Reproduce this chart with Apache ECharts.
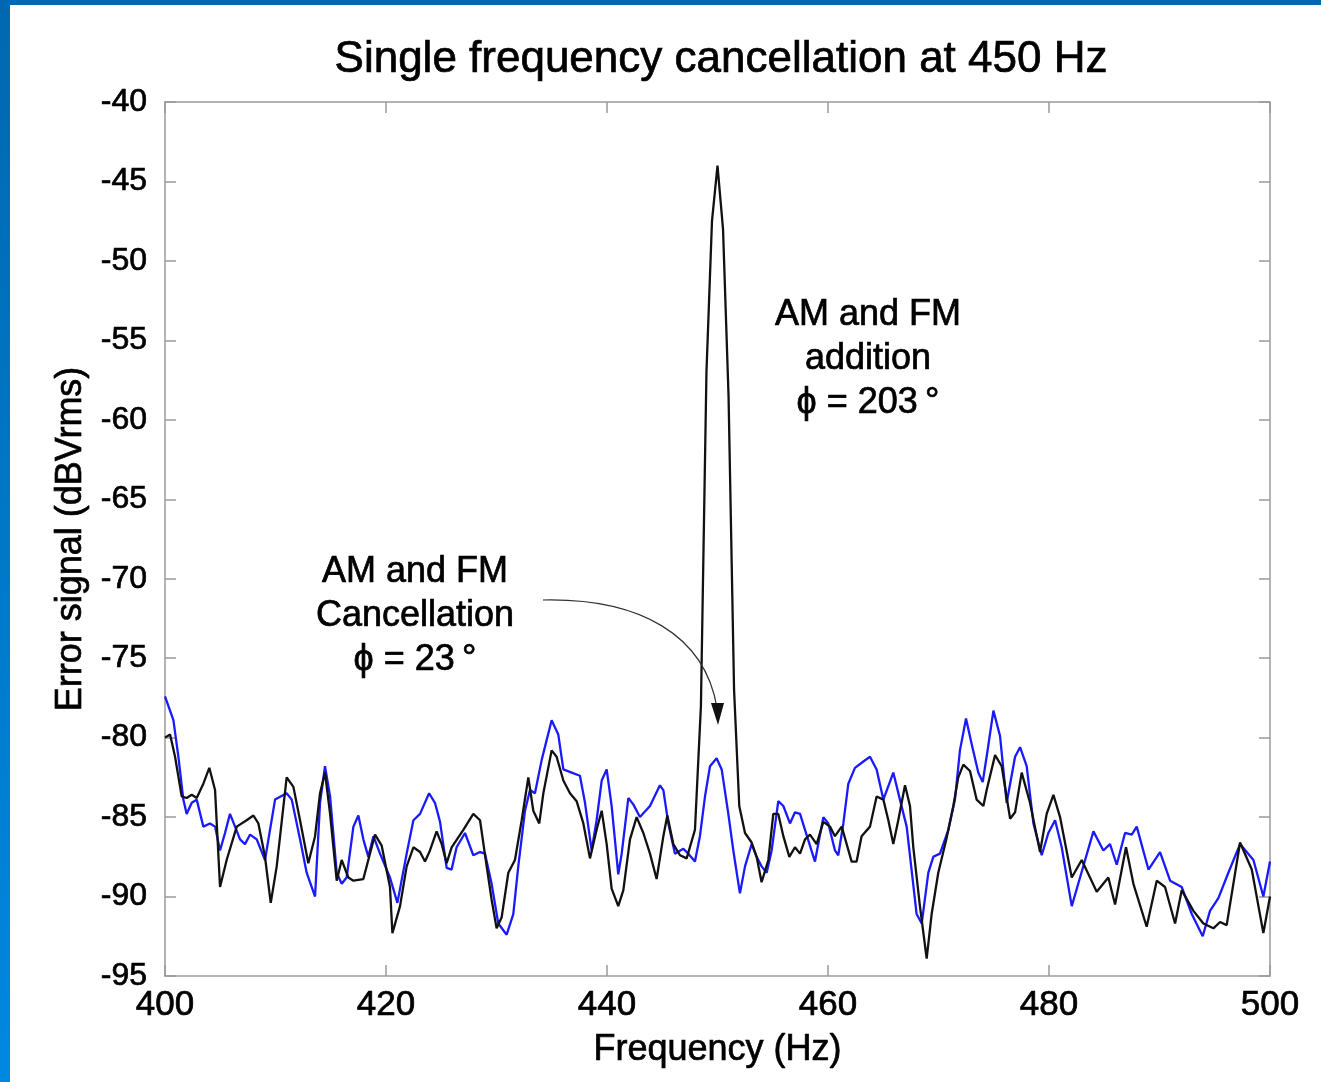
<!DOCTYPE html>
<html>
<head>
<meta charset="utf-8">
<script src="https://cdn.jsdelivr.net/npm/echarts@6/dist/echarts.min.js"></script>
<style>
html,body{margin:0;padding:0;background:#fff;}
#chart{width:1321px;height:1082px;}
</style>
</head>
<body>
<div id="chart"></div>
<script>
// ---- data ----
const titleText = 'Single frequency cancellation at 450 Hz';
const xTicks = [400, 420, 440, 460, 480, 500];
const yTicks = [-95, -90, -85, -80, -75, -70, -65, -60, -55, -50, -45, -40];

const blueHz = [400.0,400.76,401.21,401.66,401.96,402.42,402.87,403.47,404.07,404.53,404.98,405.43,405.88,406.34,406.79,407.24,407.70,408.30,409.05,409.96,411.01,411.47,412.22,412.82,413.58,414.03,414.48,414.94,415.54,415.99,416.44,417.05,417.50,417.95,418.40,418.86,419.46,420.36,421.03,421.87,422.48,423.08,423.90,424.43,424.89,425.49,425.94,426.39,427.15,427.90,428.51,428.96,429.56,430.16,430.92,431.52,431.97,432.58,433.03,433.48,434.09,434.99,435.59,436.05,436.80,437.55,438.01,438.61,439.06,439.52,439.97,440.42,441.02,441.33,441.93,442.38,442.98,443.89,444.79,445.10,445.55,446.15,446.91,447.36,447.96,448.41,448.87,449.32,449.92,450.38,450.98,451.43,452.03,452.49,453.09,453.54,453.99,454.45,454.90,455.50,455.96,456.56,457.01,457.47,457.92,458.82,459.58,460.03,460.63,460.93,461.39,461.84,462.44,463.20,463.80,464.40,465.01,465.91,466.51,467.12,468.02,468.48,469.08,469.53,470.13,470.89,471.49,471.94,472.49,473.00,473.60,474.00,474.40,474.97,475.57,476.17,476.93,477.38,477.98,478.59,479.34,479.94,480.55,481.15,482.06,482.81,484.02,484.92,485.52,486.13,486.88,487.49,487.94,489.00,490.05,490.96,492.01,492.92,493.91,494.57,495.33,496.23,497.29,498.50,499.40,500.0];
const blueDb = [-77.4,-78.9,-81.2,-83.9,-84.8,-84.1,-83.9,-85.6,-85.4,-85.6,-87.1,-86.0,-84.8,-85.6,-86.4,-86.7,-86.1,-86.4,-87.7,-83.9,-83.5,-83.9,-86.4,-88.5,-90.0,-84.1,-81.8,-83.7,-88.5,-89.2,-88.8,-85.6,-84.9,-86.4,-87.5,-86.2,-87.3,-88.8,-90.4,-87.3,-85.2,-84.8,-83.5,-84.1,-85.3,-88.2,-88.3,-86.9,-86.0,-87.4,-87.2,-87.3,-89.2,-91.7,-92.4,-91.1,-88.1,-84.6,-83.3,-83.5,-81.4,-78.9,-79.8,-82.0,-82.2,-82.4,-84.1,-87.1,-85.2,-82.7,-82.0,-84.3,-88.6,-87.3,-83.8,-84.2,-85.0,-84.3,-83.0,-83.3,-85.4,-87.3,-87.0,-87.3,-87.8,-86.2,-83.7,-81.8,-81.3,-82.0,-84.8,-87.1,-89.8,-88.1,-86.7,-87.5,-88.1,-88.5,-87.1,-84.0,-84.3,-85.4,-84.7,-84.8,-85.8,-87.8,-85.0,-85.4,-87.1,-87.4,-85.4,-82.9,-81.9,-81.5,-81.2,-82.0,-83.9,-82.2,-83.9,-85.6,-91.1,-91.7,-88.5,-87.5,-87.3,-85.8,-83.9,-80.8,-78.8,-80.4,-82.2,-82.8,-81.0,-78.3,-79.9,-84.1,-81.2,-80.6,-81.8,-85.4,-87.4,-86.0,-85.2,-86.9,-90.6,-88.8,-85.9,-87.1,-86.7,-88.0,-86.0,-86.1,-85.6,-88.3,-87.2,-89.0,-89.4,-91.1,-92.5,-90.9,-90.1,-88.5,-86.7,-87.7,-90.0,-87.8];

const blackHz = [400.0,400.46,400.91,401.51,401.96,402.42,402.87,403.47,404.01,404.53,404.98,405.58,406.49,407.39,408.00,408.45,409.05,409.57,410.11,411.01,411.62,412.22,412.97,413.58,414.03,414.48,414.94,415.54,415.99,416.59,417.05,417.95,418.55,419.01,419.61,420.36,420.58,421.27,421.87,422.48,423.08,423.53,423.98,424.58,425.04,425.49,425.94,427.00,427.90,428.51,429.11,429.56,430.01,430.47,431.07,431.67,432.28,432.88,433.33,433.87,434.24,434.99,435.44,436.05,436.65,437.25,437.86,438.46,439.06,439.52,439.97,440.42,441.02,441.48,442.08,442.68,443.29,443.89,444.49,445.10,445.46,446.00,446.61,447.21,447.96,448.50,449.00,449.50,450.00,450.50,451.00,451.50,451.97,452.49,453.09,453.54,453.99,454.60,455.05,455.50,455.96,456.50,457.01,457.47,457.92,458.37,458.97,459.58,460.18,460.63,461.24,462.14,462.59,463.04,463.80,464.40,465.01,465.46,465.91,466.36,466.97,467.42,467.72,468.32,468.93,469.38,469.98,470.74,471.34,471.79,472.25,472.85,473.45,474.06,474.36,475.12,475.72,476.48,476.93,477.53,478.28,479.19,479.79,480.40,481.00,482.06,482.96,484.32,485.37,485.98,486.97,487.64,488.84,489.75,490.50,491.41,492.01,493.07,493.97,494.88,495.48,496.08,497.29,498.35,499.40,500.0];
const blackDb = [-80.0,-79.8,-81.2,-83.7,-83.8,-83.6,-83.8,-82.9,-81.9,-83.3,-89.4,-87.7,-85.6,-85.2,-84.9,-85.4,-87.5,-90.4,-88.1,-82.5,-83.1,-85.2,-87.9,-86.2,-83.5,-82.2,-84.8,-89.0,-87.7,-88.8,-89.0,-88.9,-87.3,-86.1,-86.8,-89.4,-92.3,-90.6,-88.1,-86.9,-87.2,-87.8,-87.1,-85.9,-86.7,-87.9,-86.9,-85.8,-84.8,-85.2,-88.1,-90.2,-92.0,-91.3,-88.5,-87.7,-85.2,-82.5,-84.6,-85.4,-83.5,-80.8,-81.2,-82.7,-83.5,-84.0,-85.4,-87.6,-85.8,-84.6,-86.7,-89.5,-90.6,-89.6,-86.4,-85.0,-86.0,-87.3,-88.9,-86.2,-84.9,-86.7,-87.4,-87.6,-85.8,-78.0,-57.0,-47.5,-44.0,-48.0,-58.5,-77.0,-84.3,-86.0,-86.6,-87.5,-89.1,-87.7,-84.8,-84.8,-86.2,-87.5,-86.9,-87.3,-86.4,-86.1,-86.7,-85.3,-85.6,-86.2,-85.6,-87.8,-87.8,-86.2,-85.6,-83.7,-83.9,-85.2,-86.7,-85.2,-83.0,-84.3,-86.9,-90.6,-93.9,-91.1,-88.5,-86.3,-84.3,-82.5,-81.7,-82.1,-83.9,-84.3,-83.3,-81.1,-81.8,-85.1,-84.7,-82.2,-84.1,-87.2,-84.8,-83.6,-85.0,-88.8,-87.7,-89.7,-88.8,-90.5,-86.9,-89.2,-91.9,-89.0,-89.4,-91.7,-89.6,-90.9,-91.7,-92.0,-91.6,-91.8,-86.6,-88.3,-92.3,-90.0];

const annotAddition = ['AM and FM', 'addition', 'ϕ = 203\u2009°'];
const annotCancel = ['AM and FM', 'Cancellation', 'ϕ = 23\u2009°'];

// ---- chart ----
const FONT = '"Liberation Sans", Arial, Helvetica, sans-serif';
const pair = (xs, ys) => xs.map((x, i) => [x, ys[i]]);
const axisLineStyle = { color: '#9a9a9a', width: 1.5 };
const heavy = { textBorderColor: '#000', textBorderWidth: 0.7 };

const chart = echarts.init(document.getElementById('chart'), null, { renderer: 'canvas' });

const baseX = {
  type: 'value', min: xTicks[0], max: xTicks[xTicks.length - 1], interval: 20,
  splitLine: { show: false },
  axisLine: { show: true, lineStyle: axisLineStyle },
  axisTick: { show: true, inside: true, length: 11, lineStyle: axisLineStyle }
};
const baseY = {
  type: 'value', min: yTicks[0], max: yTicks[yTicks.length - 1], interval: 5,
  splitLine: { show: false },
  axisLine: { show: true, onZero: false, lineStyle: axisLineStyle },
  axisTick: { show: true, inside: true, length: 11, lineStyle: axisLineStyle }
};

chart.setOption({
  animation: false,
  backgroundColor: '#ffffff',
  title: {
    text: titleText, left: 716, top: 33, textAlign: 'center',
    textStyle: Object.assign({ fontFamily: FONT, fontSize: 44, fontWeight: 'normal', color: '#000' }, heavy)
  },
  grid: { left: 165, top: 102, right: 51, bottom: 106 },
  xAxis: [
    Object.assign({}, baseX, {
      position: 'bottom',
      axisLine: { show: true, onZero: false, lineStyle: axisLineStyle },
      name: 'Frequency (Hz)', nameLocation: 'middle', nameGap: 56,
      nameTextStyle: Object.assign({ fontFamily: FONT, fontSize: 36, color: '#000' }, heavy),
      axisLabel: Object.assign({ show: true, margin: 12, fontFamily: FONT, fontSize: 35, color: '#000' }, heavy)
    }),
    Object.assign({}, baseX, {
      position: 'top', axisLabel: { show: false },
      axisLine: { show: true, onZero: false, lineStyle: axisLineStyle }
    })
  ],
  yAxis: [
    Object.assign({}, baseY, {
      position: 'left',
      name: 'Error signal (dBVrms)', nameLocation: 'middle', nameGap: 76,
      nameTextStyle: Object.assign({ fontFamily: FONT, fontSize: 36, color: '#000' }, heavy),
      axisLabel: Object.assign({ show: true, margin: 18, fontFamily: FONT, fontSize: 32, color: '#000' }, heavy)
    }),
    Object.assign({}, baseY, { position: 'right', axisLabel: { show: false } })
  ],
  series: [
    {
      name: 'cancellation', type: 'line', data: pair(blueHz, blueDb),
      showSymbol: false, symbol: 'none',
      lineStyle: { color: '#1a1aff', width: 2.3 }, z: 2
    },
    {
      name: 'addition', type: 'line', data: pair(blackHz, blackDb),
      showSymbol: false, symbol: 'none',
      lineStyle: { color: '#111111', width: 2.3 }, z: 3
    }
  ],
  graphic: [
    { type: 'rect', z: -10, shape: { x: 0, y: 0, width: 1321, height: 5 }, style: { fill: '#0068b0' } },
    { type: 'rect', z: -10, shape: { x: 0, y: 0, width: 10, height: 1082 },
      style: { fill: new echarts.graphic.LinearGradient(0, 0, 0, 1, [
        { offset: 0, color: '#0068b0' }, { offset: 1, color: '#0088e0' }]) } },
    { type: 'text', x: 868, y: 359, z: 10,
      style: Object.assign({ text: annotAddition.join('\n'), font: '36px ' + FONT, fill: '#000',
               align: 'center', verticalAlign: 'middle', lineHeight: 44 }, { stroke: '#000', lineWidth: 0.7 }) },
    { type: 'text', x: 415, y: 616, z: 10,
      style: Object.assign({ text: annotCancel.join('\n'), font: '36px ' + FONT, fill: '#000',
               align: 'center', verticalAlign: 'middle', lineHeight: 44 }, { stroke: '#000', lineWidth: 0.7 }) },
    { type: 'bezierCurve', z: 10,
      shape: { x1: 543, y1: 600, cpx1: 640, cpy1: 598, cpx2: 705, cpy2: 635, x2: 717, y2: 708 },
      style: { stroke: '#333', lineWidth: 1.2, fill: null } },
    { type: 'polygon', z: 10,
      shape: { points: [[711, 703], [724, 703], [718, 725]] },
      style: { fill: '#111' } }
  ]
});
</script>
</body>
</html>
